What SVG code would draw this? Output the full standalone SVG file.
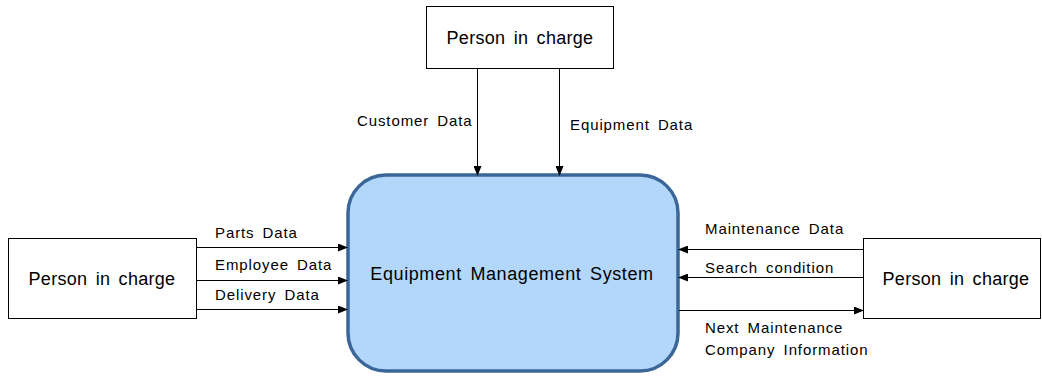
<svg xmlns="http://www.w3.org/2000/svg" width="1042" height="378" viewBox="0 0 1042 378">
<defs>
<marker id="ah" markerWidth="10" markerHeight="8" refX="9" refY="4" orient="auto" markerUnits="userSpaceOnUse">
<path d="M0,0 L10,4 L0,8 Z" fill="#000"/>
</marker>
<style>
.box{fill:#fff;stroke:#000;stroke-width:1}
.main{fill:#b3d7fb;stroke:#3a6797;stroke-width:3.5}
.t{font-family:"Liberation Sans",Arial,sans-serif;fill:#000}
.nt{font-size:18px;word-spacing:3px;letter-spacing:0.3px}
.mt{font-size:18px;word-spacing:3px;letter-spacing:0.6px}
.lt{font-size:15px;word-spacing:3px;letter-spacing:0.9px}
.c{stroke:#000;stroke-width:1;fill:none;marker-end:url(#ah)}
</style>
</defs>
<rect width="1042" height="378" fill="#fff"/>
<g id="top">
<rect class="box" x="426.5" y="6.5" width="187" height="62"/>
<text class="t nt" x="520" y="44" text-anchor="middle">Person in charge</text>
</g>
<g id="left">
<rect class="box" x="8.5" y="238.5" width="188" height="80"/>
<text class="t nt" x="102" y="285" text-anchor="middle">Person in charge</text>
</g>
<g id="right">
<rect class="box" x="863.5" y="238.5" width="177" height="80"/>
<text class="t nt" x="956" y="285" text-anchor="middle">Person in charge</text>
</g>
<g id="system">
<rect class="main" x="348" y="175" width="330" height="196" rx="38" ry="38"/>
<text class="t mt" x="512" y="280" text-anchor="middle" fill="#222">Equipment Management System</text>
</g>
<g id="connectors">
<line class="c" x1="477.5" y1="69" x2="477.5" y2="175"/>
<line class="c" x1="559.5" y1="69" x2="559.5" y2="175"/>
<line class="c" x1="197" y1="247.5" x2="347" y2="247.5"/>
<line class="c" x1="197" y1="280.5" x2="347" y2="280.5"/>
<line class="c" x1="197" y1="309.5" x2="347" y2="309.5"/>
<line class="c" x1="863" y1="249.5" x2="679" y2="249.5"/>
<line class="c" x1="863" y1="277.5" x2="679" y2="277.5"/>
<line class="c" x1="679" y1="310.5" x2="863" y2="310.5"/>
</g>
<g id="labels">
<text class="t lt" x="357" y="126">Customer Data</text>
<text class="t lt" x="570" y="130">Equipment Data</text>
<text class="t lt" x="215" y="238">Parts Data</text>
<text class="t lt" x="215" y="270">Employee Data</text>
<text class="t lt" x="215" y="300">Delivery Data</text>
<text class="t lt" x="705" y="234">Maintenance Data</text>
<text class="t lt" x="705" y="273">Search condition</text>
<text class="t lt" x="705" y="333">Next Maintenance</text>
<text class="t lt" x="705" y="355">Company Information</text>
</g>
</svg>
